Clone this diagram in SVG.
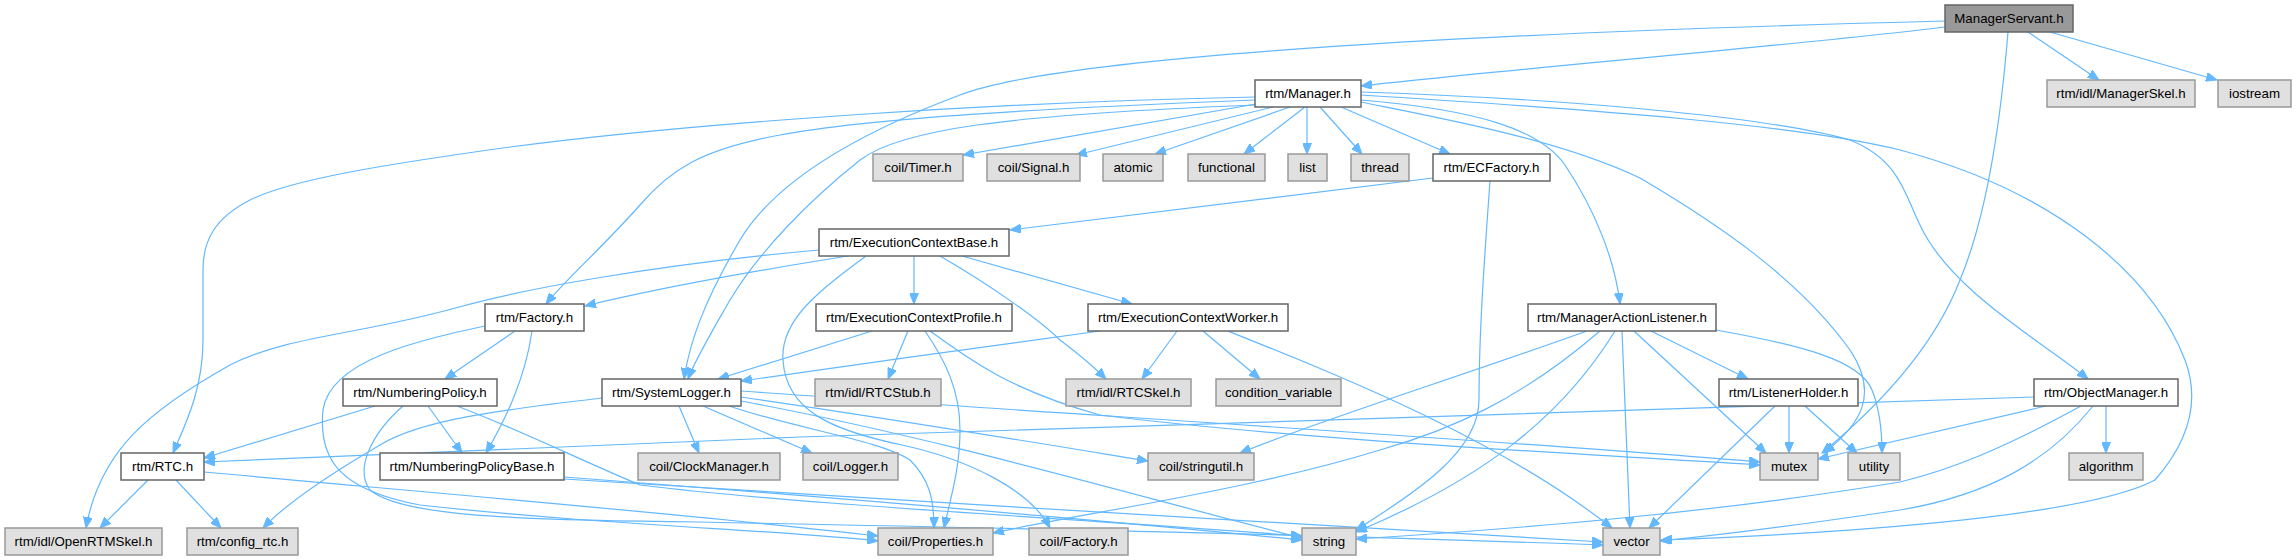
<svg xmlns="http://www.w3.org/2000/svg" width="2296" height="560" viewBox="0 0 2296 560">
<style>
.e{fill:none;stroke:#63b8ff;stroke-width:1.2;marker-end:url(#a)}
.w{fill:#ffffff;stroke:#666666;stroke-width:1.5}
.g{fill:#e0e0e0;stroke:#999999;stroke-width:1.5}
.r{fill:#999999;stroke:#666666;stroke-width:1.5}
text{font-family:"Liberation Sans",Arial,sans-serif;font-size:13.3px;fill:#000000;text-anchor:middle}
</style>
<defs>
<marker id="a" markerUnits="userSpaceOnUse" markerWidth="12" markerHeight="9" refX="11" refY="4.5" orient="auto">
<path d="M0,0 L11,4.5 L0,9 z" fill="#63b8ff" stroke="#63b8ff" stroke-width="1"/>
</marker>
</defs>
<rect width="2296" height="560" fill="#ffffff"/>
<g id="edges">
<path class="e" d="M1945,27 C1800,45 1500,70 1361,86"/>
<path class="e" d="M1945,21 C1400,35 1050,60 960,95 C840,140 770,190 740,240 C705,300 690,340 684,379"/>
<path class="e" d="M2028,32 L2099,80"/>
<path class="e" d="M2050,32 L2217,80"/>
<path class="e" d="M2008,32 C2000,130 1985,220 1960,280 C1935,345 1880,405 1822,453"/>
<path class="e" d="M1256,104 L963,155"/>
<path class="e" d="M1273,107 L1076,155"/>
<path class="e" d="M1290,107 L1155,154"/>
<path class="e" d="M1305,107 L1244,154"/>
<path class="e" d="M1307,107 L1307,154"/>
<path class="e" d="M1320,107 L1362,154"/>
<path class="e" d="M1341,107 L1450,154"/>
<path class="e" d="M1255,97 C1000,102 700,122 510,147 C380,165 290,180 250,200 C215,218 203,240 203,270 L203,340 C203,390 185,425 173,453"/>
<path class="e" d="M1255,100 C1050,108 870,118 780,135 C700,150 670,170 640,205 C600,250 565,280 546,304"/>
<path class="e" d="M1256,105 C1000,115 900,130 860,160 C810,200 760,250 730,300 C710,335 695,360 688,379"/>
<path class="e" d="M1361,100 C1480,110 1540,130 1565,165 C1595,210 1615,260 1620,304"/>
<path class="e" d="M1361,92 C1600,100 1780,120 1850,140 C1900,160 1905,195 1920,225 C1950,290 2040,340 2088,379"/>
<path class="e" d="M1361,102 C1450,120 1560,140 1640,178 C1720,225 1800,280 1850,350 C1880,395 1860,425 1824,453"/>
<path class="e" d="M1361,95 C1600,110 1800,125 1900,150 C2050,190 2150,270 2185,360 C2200,400 2190,440 2155,480 C2080,520 1800,535 1661,540"/>
<path class="e" d="M1433,178 L1010,230"/>
<path class="e" d="M1490,181 C1485,250 1479,330 1479,400 C1479,450 1420,490 1356,530"/>
<path class="e" d="M819,250 C650,265 520,290 459,307 C360,335 290,335 230,365 C150,410 100,450 86,528"/>
<path class="e" d="M848,256 C760,270 650,290 585,306"/>
<path class="e" d="M914,256 L914,304"/>
<path class="e" d="M866,256 C820,290 780,320 783,360 C786,410 830,430 902,445 C970,460 1030,490 1050,528"/>
<path class="e" d="M940,256 C990,285 1040,320 1060,340 C1080,355 1095,368 1106,379"/>
<path class="e" d="M962,256 L1132,304"/>
<path class="e" d="M872,331 L718,379"/>
<path class="e" d="M908,331 L888,379"/>
<path class="e" d="M925,331 C945,360 960,390 960,430 C960,470 950,500 944,528"/>
<path class="e" d="M930,331 C970,360 1010,390 1100,415 C1300,440 1600,455 1760,465"/>
<path class="e" d="M1100,331 C1000,345 850,365 741,381"/>
<path class="e" d="M1177,331 L1142,379"/>
<path class="e" d="M1203,331 L1260,379"/>
<path class="e" d="M1228,331 C1350,380 1500,440 1612,528"/>
<path class="e" d="M515,331 L445,379"/>
<path class="e" d="M532,331 C525,380 505,420 486,453"/>
<path class="e" d="M485,326 C420,340 330,360 323,410 C318,460 340,490 420,505 C600,525 780,530 878,541"/>
<path class="e" d="M375,406 L204,458"/>
<path class="e" d="M428,406 L462,453"/>
<path class="e" d="M403,406 C370,435 355,470 370,490 C400,515 500,520 700,522 C1000,528 1300,534 1603,545"/>
<path class="e" d="M457,406 C520,430 580,460 640,485 C800,505 1100,520 1302,536"/>
<path class="e" d="M564,477 C800,495 1100,520 1302,540"/>
<path class="e" d="M564,479 C900,500 1300,525 1603,542"/>
<path class="e" d="M148,480 L100,528"/>
<path class="e" d="M176,480 L221,528"/>
<path class="e" d="M204,472 C400,490 700,515 878,536"/>
<path class="e" d="M602,398 C500,410 420,420 380,445 C320,480 285,505 263,528"/>
<path class="e" d="M679,406 L699,453"/>
<path class="e" d="M703,406 L812,453"/>
<path class="e" d="M729,406 C800,430 880,440 910,460 C930,480 934,500 934,528"/>
<path class="e" d="M741,397 C900,420 1050,445 1148,461"/>
<path class="e" d="M741,391 C1000,410 1500,440 1760,462"/>
<path class="e" d="M741,401 C950,440 1150,500 1302,538"/>
<path class="e" d="M1651,331 L1748,379"/>
<path class="e" d="M1587,331 C1450,380 1320,420 1240,453"/>
<path class="e" d="M1600,331 C1520,400 1450,430 1380,450 C1250,490 1100,510 993,533"/>
<path class="e" d="M1615,331 C1560,420 1480,480 1356,532"/>
<path class="e" d="M1622,331 L1630,528"/>
<path class="e" d="M1634,331 L1766,453"/>
<path class="e" d="M1716,330 C1800,345 1860,360 1872,390 C1880,410 1882,430 1882,453"/>
<path class="e" d="M1789,406 L1789,453"/>
<path class="e" d="M1805,406 L1857,453"/>
<path class="e" d="M1775,406 L1649,528"/>
<path class="e" d="M2034,397 C1700,410 1000,428 800,437 C600,445 400,452 204,462"/>
<path class="e" d="M2046,406 L1818,459"/>
<path class="e" d="M2106,406 L2106,453"/>
<path class="e" d="M2081,406 C2000,450 1950,470 1900,482 C1700,515 1500,530 1356,539"/>
<path class="e" d="M2093,406 C2050,460 1990,495 1900,510 C1800,525 1720,535 1660,541"/>
</g>
<g id="n_ManagerServant"><rect class="r" x="1945" y="5" width="128" height="27"/><text x="2009" y="23">ManagerServant.h</text></g>
<g id="n_Manager"><rect class="w" x="1255" y="80" width="106" height="27"/><text x="1308" y="98">rtm/Manager.h</text></g>
<g id="n_ManagerSkel"><rect class="g" x="2047" y="80" width="148" height="27"/><text x="2121" y="98">rtm/idl/ManagerSkel.h</text></g>
<g id="n_iostream"><rect class="g" x="2218" y="80" width="73" height="27"/><text x="2254.5" y="98">iostream</text></g>
<g id="n_Timer"><rect class="g" x="873" y="154" width="90" height="27"/><text x="918" y="172">coil/Timer.h</text></g>
<g id="n_Signal"><rect class="g" x="987" y="154" width="93" height="27"/><text x="1033.5" y="172">coil/Signal.h</text></g>
<g id="n_atomic"><rect class="g" x="1103" y="154" width="60" height="27"/><text x="1133" y="172">atomic</text></g>
<g id="n_functional"><rect class="g" x="1188" y="154" width="77" height="27"/><text x="1226.5" y="172">functional</text></g>
<g id="n_list"><rect class="g" x="1288" y="154" width="39" height="27"/><text x="1307.5" y="172">list</text></g>
<g id="n_thread"><rect class="g" x="1351" y="154" width="58" height="27"/><text x="1380" y="172">thread</text></g>
<g id="n_ECFactory"><rect class="w" x="1433" y="154" width="117" height="27"/><text x="1491.5" y="172">rtm/ECFactory.h</text></g>
<g id="n_ECBase"><rect class="w" x="819" y="229" width="190" height="27"/><text x="914" y="247">rtm/ExecutionContextBase.h</text></g>
<g id="n_Factory"><rect class="w" x="485" y="304" width="99" height="27"/><text x="534.5" y="322">rtm/Factory.h</text></g>
<g id="n_ECProfile"><rect class="w" x="816" y="304" width="196" height="27"/><text x="914" y="322">rtm/ExecutionContextProfile.h</text></g>
<g id="n_ECWorker"><rect class="w" x="1088" y="304" width="200" height="27"/><text x="1188" y="322">rtm/ExecutionContextWorker.h</text></g>
<g id="n_MAL"><rect class="w" x="1528" y="304" width="188" height="27"/><text x="1622" y="322">rtm/ManagerActionListener.h</text></g>
<g id="n_NumberingPolicy"><rect class="w" x="343" y="379" width="154" height="27"/><text x="420" y="397">rtm/NumberingPolicy.h</text></g>
<g id="n_SystemLogger"><rect class="w" x="602" y="379" width="139" height="27"/><text x="671.5" y="397">rtm/SystemLogger.h</text></g>
<g id="n_RTCStub"><rect class="g" x="815" y="379" width="126" height="27"/><text x="878" y="397">rtm/idl/RTCStub.h</text></g>
<g id="n_RTCSkel"><rect class="g" x="1066" y="379" width="125" height="27"/><text x="1128.5" y="397">rtm/idl/RTCSkel.h</text></g>
<g id="n_condvar"><rect class="g" x="1216" y="379" width="125" height="27"/><text x="1278.5" y="397">condition_variable</text></g>
<g id="n_ListenerHolder"><rect class="w" x="1719" y="379" width="139" height="27"/><text x="1788.5" y="397">rtm/ListenerHolder.h</text></g>
<g id="n_ObjectManager"><rect class="w" x="2034" y="379" width="144" height="27"/><text x="2106" y="397">rtm/ObjectManager.h</text></g>
<g id="n_RTC"><rect class="w" x="121" y="453" width="83" height="27"/><text x="162.5" y="471">rtm/RTC.h</text></g>
<g id="n_NPB"><rect class="w" x="380" y="453" width="184" height="27"/><text x="472" y="471">rtm/NumberingPolicyBase.h</text></g>
<g id="n_ClockManager"><rect class="g" x="638" y="453" width="142" height="27"/><text x="709" y="471">coil/ClockManager.h</text></g>
<g id="n_Logger"><rect class="g" x="803" y="453" width="95" height="27"/><text x="850.5" y="471">coil/Logger.h</text></g>
<g id="n_stringutil"><rect class="g" x="1148" y="453" width="106" height="27"/><text x="1201" y="471">coil/stringutil.h</text></g>
<g id="n_mutex"><rect class="g" x="1760" y="453" width="58" height="27"/><text x="1789" y="471">mutex</text></g>
<g id="n_utility"><rect class="g" x="1848" y="453" width="52" height="27"/><text x="1874" y="471">utility</text></g>
<g id="n_algorithm"><rect class="g" x="2069" y="453" width="74" height="27"/><text x="2106" y="471">algorithm</text></g>
<g id="n_OpenRTMSkel"><rect class="g" x="5" y="528" width="157" height="27"/><text x="83.5" y="546">rtm/idl/OpenRTMSkel.h</text></g>
<g id="n_config_rtc"><rect class="g" x="187" y="528" width="111" height="27"/><text x="242.5" y="546">rtm/config_rtc.h</text></g>
<g id="n_Properties"><rect class="g" x="878" y="528" width="115" height="27"/><text x="935.5" y="546">coil/Properties.h</text></g>
<g id="n_coilFactory"><rect class="g" x="1029" y="528" width="99" height="27"/><text x="1078.5" y="546">coil/Factory.h</text></g>
<g id="n_string"><rect class="g" x="1302" y="528" width="54" height="27"/><text x="1329" y="546">string</text></g>
<g id="n_vector"><rect class="g" x="1603" y="528" width="57" height="27"/><text x="1631.5" y="546">vector</text></g>
</svg>
